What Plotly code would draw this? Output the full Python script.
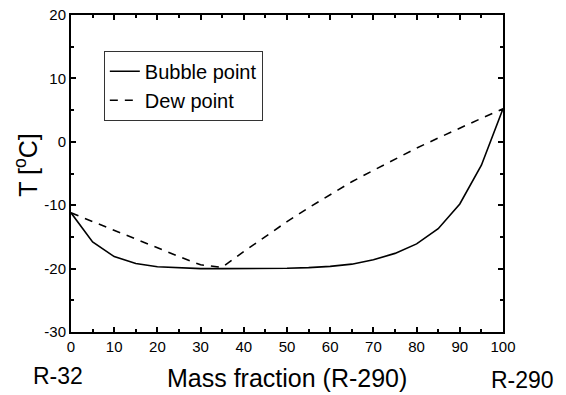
import plotly.graph_objects as go

mass_fraction = [0, 5, 10, 15, 20, 25, 30, 35, 40, 45, 50, 55, 60, 65, 70, 75, 80, 85, 90, 95, 100]
bubble_point = [-11.2, -15.8, -18.1, -19.2, -19.7, -19.9, -20.0, -20.0, -20.0, -20.0, -19.95, -19.85,
                -19.65, -19.3, -18.6, -17.6, -16.1, -13.7, -9.8, -3.7, 5.2]
dew_point = [-11.2, -12.6, -14.0, -15.3, -16.7, -18.1, -19.4, -19.8, -17.3, -14.9, -12.6, -10.4,
             -8.3, -6.3, -4.5, -2.7, -1.0, 0.6, 2.2, 3.7, 5.2]

y_ticks = [20, 10, 0, -10, -20, -30]
y_tick_labels = ["20", "10", "0", "-10", "-20", "-30"]
x_ticks = list(range(0, 101, 10))

font_family = "Liberation Sans, Arial, sans-serif"

fig = go.Figure()
fig.add_trace(go.Scatter(x=mass_fraction, y=bubble_point, mode="lines", name="Bubble point",
                         line=dict(color="black", width=1.6, dash="solid")))
fig.add_trace(go.Scatter(x=mass_fraction, y=dew_point, mode="lines", name="Dew point",
                         line=dict(color="black", width=1.6, dash="8px,7px")))

axis_common = dict(showline=True, linecolor="black", linewidth=2, mirror="ticks",
                   ticks="inside", ticklen=5, tickwidth=2, tickcolor="black",
                   showgrid=False, zeroline=False, automargin=False,
                   tickfont=dict(family=font_family, size=15, color="black"))

fig.update_xaxes(range=[0, 100], tickvals=x_ticks,
                 minor=dict(ticks="inside", ticklen=3, tickwidth=2, dtick=5, tickcolor="black", showgrid=False),
                 **axis_common)
fig.update_yaxes(range=[-30, 20], tickvals=y_ticks, ticktext=y_tick_labels,
                 minor=dict(ticks="inside", ticklen=3, tickwidth=2, dtick=5, tickcolor="black", showgrid=False),
                 **axis_common)

fig.update_layout(
    width=566, height=395,
    margin=dict(l=71, r=63, t=15, b=63),
    paper_bgcolor="white", plot_bgcolor="white",
    showlegend=True,
    legend=dict(x=0.076, y=0.887, xanchor="left", yanchor="top",
                bgcolor="white", bordercolor="#333333", borderwidth=1,
                font=dict(family=font_family, size=20, color="black"),
                itemwidth=30, tracegroupgap=0),
    annotations=[
        dict(text="Mass fraction (R-290)", x=0.5, y=-0.145, xref="paper", yref="paper", showarrow=False,
             xanchor="center", yanchor="middle",
             font=dict(family=font_family, size=25, color="black")),
        dict(text="T [<sup>o</sup>C]", x=-0.104, y=0.525, xref="paper", yref="paper", showarrow=False,
             xanchor="center", yanchor="middle", textangle=-90,
             font=dict(family=font_family, size=25, color="black")),
        dict(text="R-32", x=-0.031, y=-0.14, xref="paper", yref="paper", showarrow=False,
             xanchor="center", yanchor="middle",
             font=dict(family=font_family, size=23, color="black")),
        dict(text="R-290", x=1.045, y=-0.152, xref="paper", yref="paper", showarrow=False,
             xanchor="center", yanchor="middle",
             font=dict(family=font_family, size=23, color="black")),
    ],
)

fig.write_html("out.html")
